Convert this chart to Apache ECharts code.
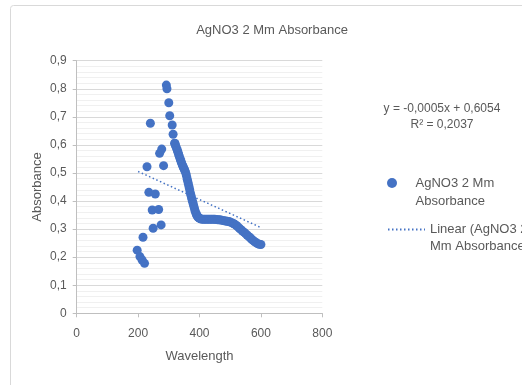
<!DOCTYPE html>
<html>
<head>
<meta charset="utf-8">
<script src="https://cdn.jsdelivr.net/npm/echarts@6/dist/echarts.min.js"></script>
<style>html,body{margin:0;padding:0;background:#fff}#c{width:522px;height:385px}</style>
</head>
<body>
<div id="c"></div>
<script>
// ---- data ----
const chartTitle = 'AgNO3 2 Mm Absorbance';
const seriesName = 'AgNO3 2 Mm Absorbance';
const trendName = 'Linear (AgNO3 2 Mm Absorbance)';
const xTicks = [0, 200, 400, 600, 800];
const yTicks = [0, 0.1, 0.2, 0.3, 0.4, 0.5, 0.6, 0.7, 0.8, 0.9];
const wavelength = [
  197, 206, 213, 216, 221, 229, 235, 240, 246, 249, 256, 267, 270, 275, 277, 283,
  292, 294, 300, 303, 311, 314, 319,
  320, 322, 324, 326, 328, 330, 332, 334, 336, 338, 340, 342, 344, 346, 348, 350,
  352, 354, 356, 358, 360, 362, 364, 366, 368, 370, 372, 374, 376, 378, 380, 382,
  384, 386, 388, 390, 392, 394, 396, 398,
  400, 405, 410, 415, 420, 425, 430, 435, 440, 445, 450, 455, 460, 465, 470, 475,
  480, 485, 490, 495, 500, 505, 510, 515, 520, 525, 530, 535, 540, 545, 550, 555,
  560, 565, 570, 575, 580, 585, 590, 595, 600
];
const absorbance = [
  0.225, 0.202, 0.190, 0.271, 0.178, 0.522, 0.431, 0.677, 0.368, 0.303, 0.425, 0.370, 0.570, 0.315, 0.585, 0.526,
  0.813, 0.800, 0.750, 0.704, 0.671, 0.638, 0.606,
  0.605, 0.598, 0.592, 0.586, 0.580, 0.574, 0.567, 0.560, 0.553, 0.547, 0.541, 0.535, 0.529, 0.524, 0.519, 0.514,
  0.509, 0.504, 0.497, 0.488, 0.478, 0.469, 0.460, 0.450, 0.440, 0.430, 0.421, 0.412, 0.404, 0.396, 0.388, 0.380,
  0.372, 0.364, 0.358, 0.352, 0.348, 0.344, 0.342, 0.340,
  0.338, 0.336, 0.335, 0.335, 0.335, 0.335, 0.335, 0.335, 0.335, 0.335, 0.335, 0.334, 0.333, 0.333, 0.332, 0.331,
  0.330, 0.329, 0.328, 0.327, 0.325, 0.323, 0.320, 0.317, 0.313, 0.308, 0.303, 0.298, 0.293, 0.289, 0.284, 0.279,
  0.274, 0.269, 0.264, 0.259, 0.255, 0.251, 0.248, 0.246, 0.245
];
const trendSlope = -0.0005;
const trendIntercept = 0.6054;
const trendR2 = 0.2037;
const trendRange = [200, 600];

// ---- build ----
const pts = wavelength.map((x, i) => [x, absorbance[i]]);
const trendPts = trendRange.map(x => [x, trendSlope * x + trendIntercept]);
const comma = v => String(v).replace('.', ',');
const eqText = 'y = ' + comma(trendSlope.toFixed(4)) + 'x + ' + comma(trendIntercept.toFixed(4)) +
  '\nR² = ' + comma(trendR2.toFixed(4));

const txt = '#595959';
const font = 'Liberation Sans, Arial, sans-serif';
const chart = echarts.init(document.getElementById('c'));
chart.setOption({
  animation: false,
  textStyle: { fontFamily: font },
  grid: { left: 76.7, top: 60.7, width: 245.6, height: 252.6, containLabel: false },
  xAxis: {
    type: 'value', min: xTicks[0], max: xTicks[xTicks.length - 1], interval: 200,
    name: 'Wavelength', nameLocation: 'middle', nameGap: 37,
    nameTextStyle: { color: txt, fontSize: 13, fontFamily: font },
    axisLine: { show: true, lineStyle: { color: '#bfbfbf', width: 1 } },
    axisTick: { show: true, length: 4, lineStyle: { color: '#bfbfbf' } },
    axisLabel: { color: txt, fontSize: 12, margin: 14, fontFamily: font },
    splitLine: { show: false }
  },
  yAxis: {
    type: 'value', min: yTicks[0], max: yTicks[yTicks.length - 1], interval: 0.1,
    name: 'Absorbance', nameLocation: 'middle', nameGap: 33, nameRotate: 90,
    nameTextStyle: { color: txt, fontSize: 13, fontFamily: font },
    axisLine: { show: true, lineStyle: { color: '#bfbfbf', width: 1 } },
    axisTick: { show: true, length: 4, lineStyle: { color: '#bfbfbf' } },
    axisLabel: { color: txt, fontSize: 12, margin: 10, fontFamily: font, formatter: v => comma(Math.round(v * 10) / 10) },
    splitLine: { show: true, lineStyle: { color: '#d9d9d9', width: 1 } },
    minorTick: { show: false, splitNumber: 5 },
    minorSplitLine: { show: true, lineStyle: { color: '#f0f0f0', width: 1 } }
  },
  legend: [{
    data: [{ name: seriesName, icon: 'circle' }],
    left: 382, top: 151, orient: 'vertical',
    itemWidth: 37, itemHeight: 10,
    textStyle: { color: txt, fontSize: 13, lineHeight: 18, fontFamily: font },
    formatter: () => '\nAgNO3 2 Mm\nAbsorbance'
  }, {
    data: [{ name: trendName }],
    left: 382, top: 199, orient: 'vertical',
    itemWidth: 37, itemHeight: 10,
    itemStyle: { opacity: 0 },
    textStyle: { color: txt, fontSize: 13, lineHeight: 17, fontFamily: font },
    formatter: () => '\nLinear (AgNO3 2\nMm Absorbance)'
  }],
  graphic: [
    { type: 'rect', silent: true, z: -10, shape: { x: 10.5, y: 5.5, width: 540, height: 400, r: 3 },
      style: { fill: 'none', stroke: '#d9d9d9', lineWidth: 1 } },
    { type: 'text', x: 272, y: 30, style: { text: chartTitle, fill: txt, font: '13px ' + font, textAlign: 'center', textVerticalAlign: 'middle' } },
    { type: 'text', x: 442, y: 117, style: { text: eqText, fill: txt, font: '12px ' + font, textAlign: 'center', textVerticalAlign: 'middle', lineHeight: 16 } }
  ],
  series: [{
    name: seriesName, type: 'scatter', data: pts, symbol: 'circle', symbolSize: 9,
    itemStyle: { color: '#4472C4', opacity: 1 }, z: 2
  }, {
    name: trendName, type: 'line', data: trendPts, symbol: 'none', z: 3,
    lineStyle: { color: '#4472C4', width: 1.5, type: [1.5, 2.5] }, itemStyle: { color: '#4472C4' }
  }]
});
</script>
</body>
</html>
